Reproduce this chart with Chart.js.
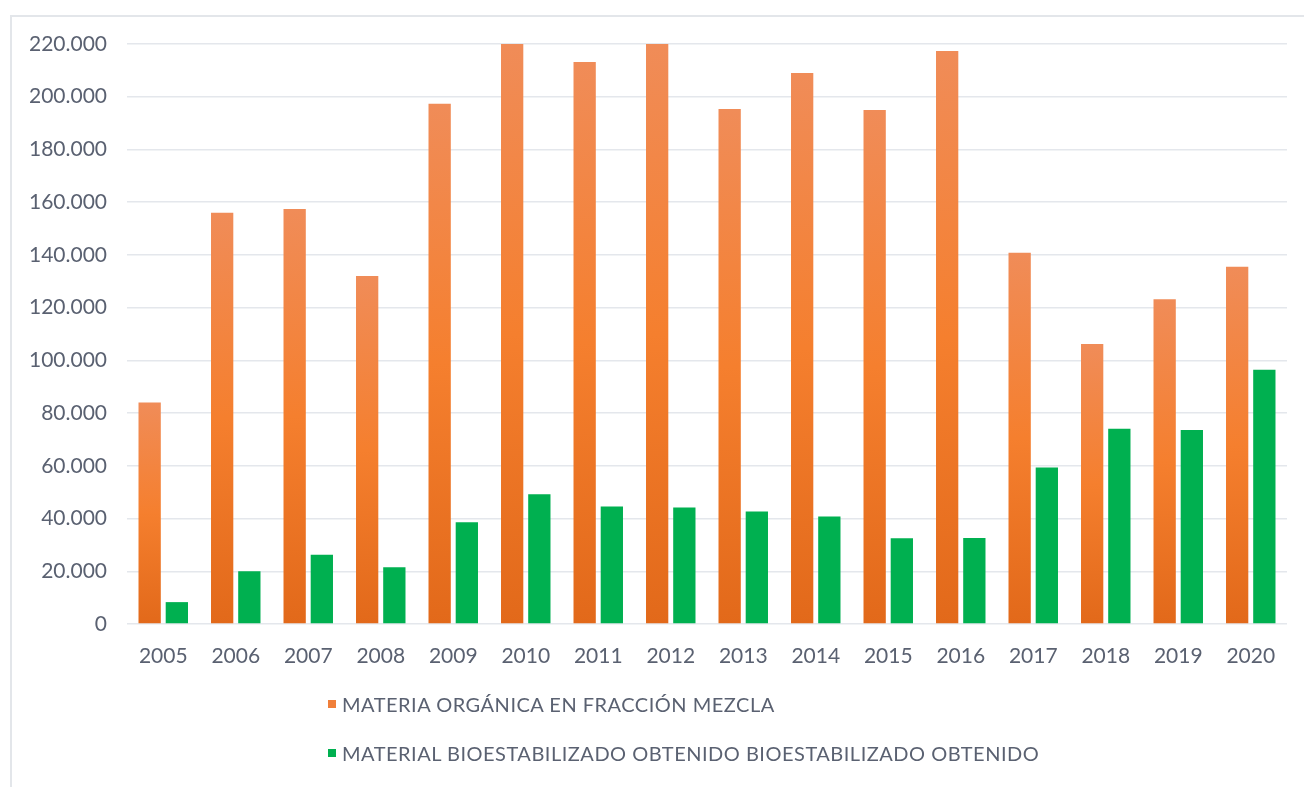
<!DOCTYPE html>
<html>
<head>
<meta charset="utf-8">
<script src="https://cdn.jsdelivr.net/npm/chart.js@4/dist/chart.umd.min.js"></script>
<style>
  html, body { margin: 0; padding: 0; background: #fff; overflow: hidden; }
  #wrap { position: relative; width: 1304px; height: 787px; }
  #frame { position: absolute; left: 10px; top: 15px; width: 1300px; height: 790px;
           border: 2px solid #e3e6ea; box-sizing: border-box; }
  canvas { position: absolute; left: 0; top: 0; }
  #legend { position: absolute; left: 328px; top: 690px; font-family: Lato, "Liberation Sans", sans-serif;
            font-size: 20px; letter-spacing: 0.5px; color: #5a6171; }
  #legend .item { display: flex; align-items: center; height: 28px; margin-bottom: 21px; white-space: nowrap; }
  #legend .box { width: 8px; height: 8px; margin-right: 6px; }
</style>
</head>
<body>
<div id="wrap">
  <div id="frame"></div>
  <canvas id="chart" width="1304" height="787"></canvas>
  <div id="legend"></div>
</div>
<script>
// === データ ===
const years = ["2005","2006","2007","2008","2009","2010","2011","2012","2013","2014","2015","2016","2017","2018","2019","2020"];
const materiaOrganica = [84000,156000,157400,132000,197300,220000,213200,220000,195300,209000,195000,217300,140800,106200,123200,135500];
const bioestabilizado = [8300,20000,26300,21500,38600,49200,44600,44200,42700,40800,32500,32600,59400,74100,73600,96400];
const seriesNames = ["MATERIA ORGÁNICA EN FRACCIÓN MEZCLA", "MATERIAL BIOESTABILIZADO OBTENIDO BIOESTABILIZADO OBTENIDO"];
const yMax = 220000, yStep = 20000;

const TXT = "#5a6171";
const FONT = "Lato, 'Liberation Sans', sans-serif";

// 棒ごとのグラデーション（上が明るい）
function orangeFill(ctx) {
  const chart = ctx.chart;
  const area = chart.chartArea;
  if (!area || ctx.type !== "data") return "#f47f30";
  const y = chart.scales.y;
  const top = y.getPixelForValue(ctx.raw);
  const bottom = y.getPixelForValue(0);
  const g = chart.ctx.createLinearGradient(0, top, 0, bottom);
  g.addColorStop(0, "#f08c58");
  g.addColorStop(0.5, "#f57f2e");
  g.addColorStop(1, "#e2691a");
  return g;
}

const fmt = v => v === 0 ? "0" : v.toLocaleString("de-DE");

const chart = new Chart(document.getElementById("chart"), {
  type: "bar",
  data: {
    labels: years,
    datasets: [
      { label: seriesNames[0], data: materiaOrganica, backgroundColor: orangeFill, legendColor: "#f07f3a",
        categoryPercentage: 0.75, barPercentage: 0.82 },
      { label: seriesNames[1], data: bioestabilizado, backgroundColor: "#00b050", legendColor: "#00b050",
        categoryPercentage: 0.75, barPercentage: 0.82 }
    ]
  },
  options: {
    responsive: false,
    animation: false,
    layout: { padding: { left: 0, top: 44, right: 17, bottom: 0 } },
    plugins: { legend: { display: false }, tooltip: { enabled: false } },
    scales: {
      x: {
        grid: { display: false, drawTicks: false },
        border: { display: false },
        ticks: { color: TXT, font: { family: FONT, size: 21 }, padding: 20 },
        afterFit: s => { s.height = 163; }
      },
      y: {
        min: 0, max: yMax,
        grid: { color: "#e4e7ec", lineWidth: 1.5, drawTicks: false },
        border: { display: false },
        ticks: { stepSize: yStep, color: TXT, font: { family: FONT, size: 21 }, padding: 20, callback: fmt },
        afterFit: s => { s.width = 127; }
      }
    }
  }
});

// === 凡例（縦並び） ===
const legend = document.getElementById("legend");
chart.data.datasets.forEach(ds => {
  const item = document.createElement("div");
  item.className = "item";
  item.innerHTML = `<span class="box" style="background:${ds.legendColor}"></span><span>${ds.label}</span>`;
  legend.appendChild(item);
});
</script>
</body>
</html>
